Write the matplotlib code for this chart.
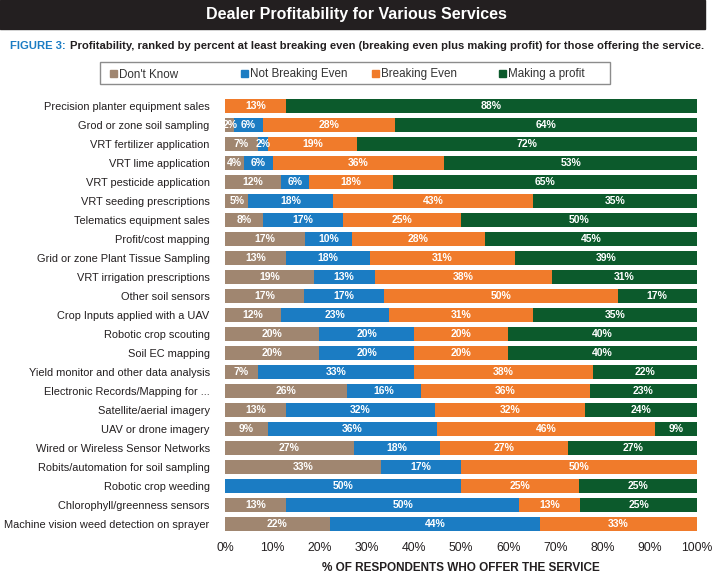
import matplotlib.pyplot as plt
import numpy as np
from matplotlib.patches import Rectangle

plt.rcParams['font.family'] = ['Liberation Sans', 'DejaVu Sans']

services = [
    "Precision planter equipment sales",
    "Grod or zone soil sampling",
    "VRT fertilizer application",
    "VRT lime application",
    "VRT pesticide application",
    "VRT seeding prescriptions",
    "Telematics equipment sales",
    "Profit/cost mapping",
    "Grid or zone Plant Tissue Sampling",
    "VRT irrigation prescriptions",
    "Other soil sensors",
    "Crop Inputs applied with a UAV",
    "Robotic crop scouting",
    "Soil EC mapping",
    "Yield monitor and other data analysis",
    "Electronic Records/Mapping for ...",
    "Satellite/aerial imagery",
    "UAV or drone imagery",
    "Wired or Wireless Sensor Networks",
    "Robits/automation for soil sampling",
    "Robotic crop weeding",
    "Chlorophyll/greenness sensors",
    "Machine vision weed detection on sprayer",
]

dont_know = [0, 2, 7, 4, 12, 5, 8, 17, 13, 19, 17, 12, 20, 20, 7, 26, 13, 9, 27, 33, 0, 13, 22]
not_breaking = [0, 6, 2, 6, 6, 18, 17, 10, 18, 13, 17, 23, 20, 20, 33, 16, 32, 36, 18, 17, 50, 50, 44]
breaking_even = [13, 28, 19, 36, 18, 43, 25, 28, 31, 38, 50, 31, 20, 20, 38, 36, 32, 46, 27, 50, 25, 13, 33]
making_profit = [88, 64, 72, 53, 65, 35, 50, 45, 39, 31, 17, 35, 40, 40, 22, 23, 24, 9, 27, 0, 25, 25, 0]

series = [
    ("Don't Know", dont_know, "#a08670"),
    ("Not Breaking Even", not_breaking, "#1b7cc3"),
    ("Breaking Even", breaking_even, "#f07b2b"),
    ("Making a profit", making_profit, "#0c5a2c"),
]

data = np.array([s[1] for s in series], dtype=float)
# bars are drawn as 100% stacked, so normalise each row
shares = data / data.sum(axis=0) * 100

fig = plt.figure(figsize=(7.13, 5.76), dpi=100)
ax = fig.add_axes([0.3156, 0.0738, 0.662, 0.7587])

y = np.arange(len(services))
left = np.zeros(len(services))
for k, (name, vals, color) in enumerate(series):
    ax.barh(y, shares[k], left=left, height=0.74, color=color, label=name)
    for i, v in enumerate(vals):
        if v > 0:
            ax.text(left[i] + shares[k][i] / 2, y[i], f"{v}%", ha='center', va='center',
                    color='white', fontsize=7.5, fontweight='bold')
    left += shares[k]

ax.set_ylim(len(services) - 0.5, -0.5)
ax.set_xlim(0, 100)
ax.set_yticks(y)
ax.set_yticklabels(services, fontsize=7.9, color='#231f20')
ax.set_xticks(np.arange(0, 101, 10))
ax.set_xticklabels([f"{t}%" for t in range(0, 101, 10)], fontsize=8.8, color='#231f20')
ax.tick_params(length=0, pad=11)
ax.tick_params(axis='x', pad=6)
for s in ax.spines.values():
    s.set_visible(False)
ax.set_xlabel("% OF RESPONDENTS WHO OFFER THE SERVICE", fontsize=8.5,
              fontweight='bold', color='#231f20', labelpad=6)

# black title band
fig.patches.append(Rectangle((0, 1 - 29 / 576), 705 / 713, 29 / 576, transform=fig.transFigure,
                             color='#231f20', zorder=0))
fig.text(0.5, 1 - 14 / 576, "Dealer Profitability for Various Services", ha='center', va='center',
         color='white', fontsize=11.5, fontweight='bold')

fig.text(10 / 713, 1 - 46 / 576, "FIGURE 3:", ha='left', va='center', color='#1b7cc3',
         fontsize=8.1, fontweight='bold')
fig.text(70 / 713, 1 - 46 / 576,
         "Profitability, ranked by percent at least breaking even (breaking even plus making profit) for those offering the service.",
         ha='left', va='center', color='#231f20', fontsize=8.1, fontweight='bold')

# legend box, entries evenly spaced like the original
fig.patches.append(Rectangle((100 / 713, 1 - 84 / 576), 510 / 713, 22 / 576,
                             transform=fig.transFigure, facecolor='white',
                             edgecolor='#8c8c8c', linewidth=1))
leg_x = [110, 241, 372, 499]
for (name, vals, color), lx in zip(series, leg_x):
    fig.patches.append(Rectangle((lx / 713, 1 - 76.5 / 576), 7 / 713, 7 / 576,
                                 transform=fig.transFigure, color=color))
    fig.text((lx + 9) / 713, 1 - 73 / 576, name, ha='left', va='center_baseline',
             color='#333333', fontsize=8.4)

fig.savefig("out.png", dpi=100)
